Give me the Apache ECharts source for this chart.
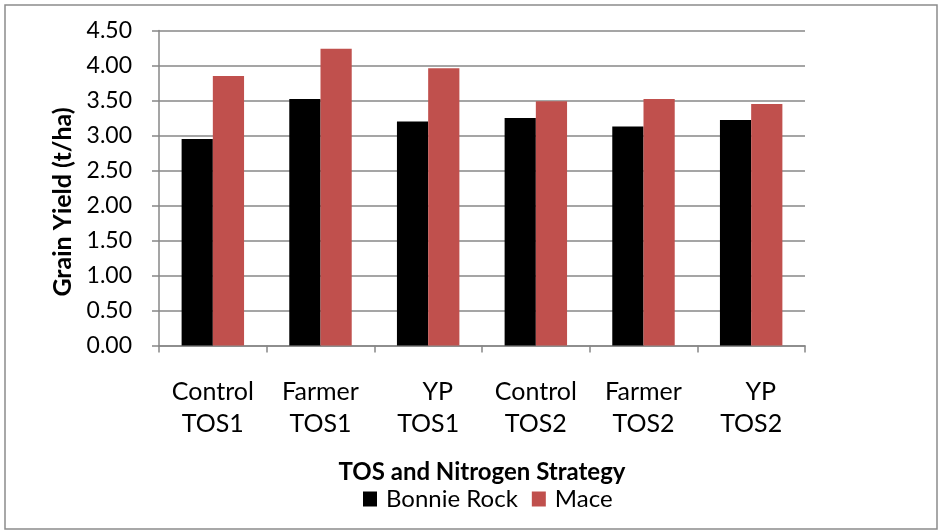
<!DOCTYPE html>
<html>
<head>
<meta charset="utf-8">
<script src="https://cdn.jsdelivr.net/npm/echarts@6/dist/echarts.min.js"></script>
<style>
    html, body { margin: 0; padding: 0; background: #fff; }
    #chart { width: 943px; height: 532px; }
</style>
</head>
<body>
<div id="chart"></div>
<script>
// 数据
let categories = ['Control\nTOS1', 'Farmer\nTOS1', '   YP\nTOS1', 'Control\nTOS2', 'Farmer\nTOS2', '   YP\nTOS2'];
let bonnieRock = [2.95, 3.52, 3.20, 3.25, 3.13, 3.22];
let mace = [3.85, 4.24, 3.96, 3.49, 3.52, 3.45];
let yTicks = [0, 0.5, 1, 1.5, 2, 2.5, 3, 3.5, 4, 4.5];

let fontName = 'Lato, "Open Sans", sans-serif';
let gridColor = '#878787';

let chart = echarts.init(document.getElementById('chart'), null, {renderer: 'canvas'});

let option = {
    animation: false,
    backgroundColor: '#fff',
    textStyle: {
        fontFamily: fontName
    },
    graphic: [{
        type: 'rect',
        shape: {x: 5, y: 5, width: 932, height: 524},
        style: {fill: 'none', stroke: '#8c8c8c', lineWidth: 1.5},
        silent: true
    }],
    grid: {
        left: 159,
        right: 138,
        top: 30.5,
        bottom: 186.5
    },
    legend: {
        bottom: 16,
        left: 358,
        itemWidth: 14,
        itemHeight: 15,
        itemGap: 14,
        icon: 'rect',
        textStyle: {
            fontSize: 24,
            color: '#000',
            fontFamily: fontName,
            padding: [0, 0, 0, 4]
        },
        data: ['Bonnie Rock', 'Mace']
    },
    xAxis: {
        type: 'category',
        data: categories,
        name: 'TOS and Nitrogen Strategy',
        nameLocation: 'middle',
        nameGap: 115,
        nameTextStyle: {
            fontSize: 24,
            fontWeight: 'bold',
            color: '#000'
        },
        axisLine: {
            lineStyle: {color: gridColor, width: 1.5}
        },
        axisTick: {
            show: true,
            length: 7,
            alignWithLabel: false,
            lineStyle: {color: gridColor, width: 1.5}
        },
        axisLabel: {
            fontSize: 25,
            color: '#000',
            margin: 31,
            lineHeight: 31.5,
            interval: 0
        }
    },
    yAxis: {
        type: 'value',
        min: 0,
        max: 4.5,
        interval: 0.5,
        name: 'Grain Yield (t/ha)',
        nameLocation: 'middle',
        nameRotate: 90,
        nameGap: 78,
        nameTextStyle: {
            fontSize: 25,
            fontWeight: 'bold',
            color: '#000',
            padding: [0, 28, 0, 0]
        },
        axisLine: {
            show: true,
            lineStyle: {color: gridColor, width: 1.5}
        },
        axisTick: {
            show: true,
            length: 7,
            lineStyle: {color: gridColor, width: 1.5}
        },
        splitLine: {
            lineStyle: {color: gridColor, width: 1.5}
        },
        axisLabel: {
            fontSize: 23,
            color: '#000',
            margin: 27,
            formatter: function (v) {
                return yTicks.indexOf(v) >= 0 ? v.toFixed(2) : '';
            }
        }
    },
    series: [{
        name: 'Bonnie Rock',
        type: 'bar',
        data: bonnieRock,
        barGap: '0%',
        barCategoryGap: '42%',
        itemStyle: {color: '#000000'}
    }, {
        name: 'Mace',
        type: 'bar',
        data: mace,
        itemStyle: {color: '#C0504D'}
    }]
};

chart.setOption(option);
</script>
</body>
</html>
